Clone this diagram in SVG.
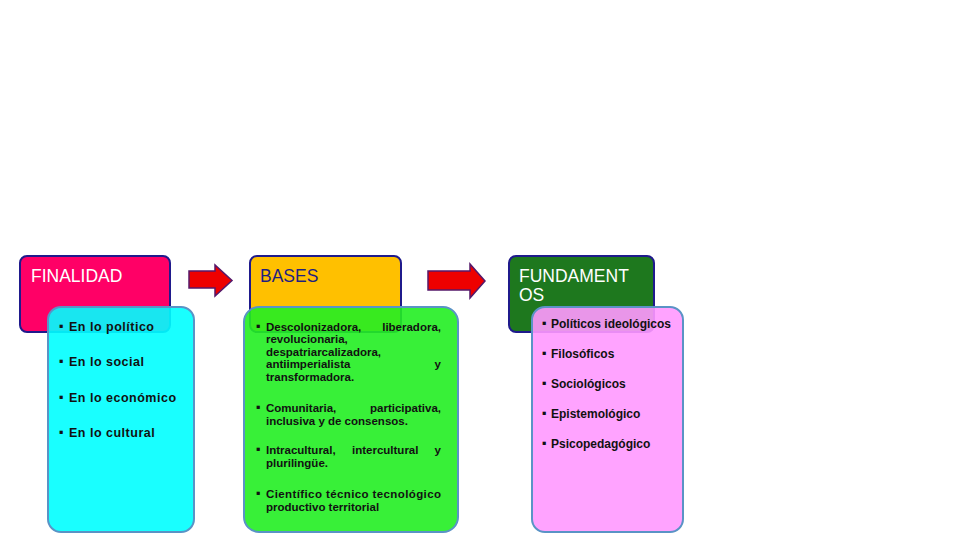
<svg xmlns="http://www.w3.org/2000/svg" width="960" height="540" viewBox="0 0 960 540">
<style>
.head{stroke:#1f1a8c;stroke-width:2}
.list{stroke:#5a93c6;stroke-width:2;fill-opacity:0.9}
.title{font-family:"Liberation Sans",Arial,sans-serif;font-size:17.5px}
.it{font-family:"Liberation Sans",Arial,sans-serif;font-weight:bold;fill:#111}
.fin{font-size:12.5px;letter-spacing:0.5px}
.bas{font-size:11.5px}
.fun{font-size:12px}
.bul{font-family:"DejaVu Sans",sans-serif;font-size:6.5px;fill:#111}
.arrow{fill:#ee0000;stroke:#55186a;stroke-width:1.5}
</style>
<rect width="960" height="540" fill="#ffffff"/>
<g id="connectors">
<polygon class="arrow" points="189,271 215,271 215,265 232,280.5 215,296 215,288 189,288"/>
<polygon class="arrow" points="428,271 470,271 470,264 485,281 470,298 470,290 428,290"/>
</g>
<g id="finalidad">
<rect class="head" x="20" y="256" width="150" height="76" rx="7" fill="#ff0066"/>
<text class="title" x="31" y="282" fill="#ffffff">FINALIDAD</text>
</g>
<g id="finalidad-list">
<rect class="list" x="48" y="307" width="146" height="225" rx="13" fill="#00ffff"/>
<text class="bul" x="59" y="328">▪</text><text class="it fin" x="69" y="331">En lo político</text>
<text class="bul" x="59" y="363">▪</text><text class="it fin" x="69" y="366">En lo social</text>
<text class="bul" x="59" y="399">▪</text><text class="it fin" x="69" y="402">En lo económico</text>
<text class="bul" x="59" y="434">▪</text><text class="it fin" x="69" y="437">En lo cultural</text>
</g>
<g id="bases">
<rect class="head" x="250" y="256" width="151" height="76" rx="7" fill="#ffc000"/>
<text class="title" x="260" y="282" fill="#1f1f80">BASES</text>
</g>
<g id="bases-list">
<rect class="list" x="244" y="307" width="214" height="225" rx="15" fill="#22ee22"/>
<text class="bul" x="256" y="328">▪</text>
<text class="it bas" x="266" y="331">Descolonizadora,</text>
<text class="it bas" x="441" y="331" text-anchor="end">liberadora,</text>
<text class="it bas" x="266" y="343">revolucionaria,</text>
<text class="it bas" x="266" y="356">despatriarcalizadora,</text>
<text class="it bas" x="266" y="368">antiimperialista</text>
<text class="it bas" x="441" y="368" text-anchor="end">y</text>
<text class="it bas" x="266" y="381">transformadora.</text>
<text class="bul" x="256" y="409">▪</text>
<text class="it bas" x="266" y="412">Comunitaria,</text>
<text class="it bas" x="441" y="412" text-anchor="end">participativa,</text>
<text class="it bas" x="266" y="425">inclusiva y de consensos.</text>
<text class="bul" x="256" y="451">▪</text>
<text class="it bas" x="266" y="454">Intracultural,</text>
<text class="it bas" x="352" y="454">intercultural</text>
<text class="it bas" x="441" y="454" text-anchor="end">y</text>
<text class="it bas" x="266" y="467">plurilingüe.</text>
<text class="bul" x="256" y="495">▪</text>
<text class="it bas" x="266" y="498" textLength="175" lengthAdjust="spacing">Científico técnico tecnológico</text>
<text class="it bas" x="266" y="511">productivo territorial</text>
</g>
<g id="fundamentos">
<rect class="head" x="509" y="256" width="145" height="76" rx="7" fill="#1e781e"/>
<text class="title" x="519" y="282" fill="#ffffff">FUNDAMENT</text>
<text class="title" x="519" y="301" fill="#ffffff">OS</text>
</g>
<g id="fundamentos-list">
<rect class="list" x="532" y="307" width="151" height="225" rx="13" fill="#ff99ff"/>
<text class="bul" x="542" y="325">▪</text><text class="it fun" x="551" y="328">Políticos ideológicos</text>
<text class="bul" x="542" y="355">▪</text><text class="it fun" x="551" y="358">Filosóficos</text>
<text class="bul" x="542" y="385">▪</text><text class="it fun" x="551" y="388">Sociológicos</text>
<text class="bul" x="542" y="415">▪</text><text class="it fun" x="551" y="418">Epistemológico</text>
<text class="bul" x="542" y="445">▪</text><text class="it fun" x="551" y="448">Psicopedagógico</text>
</g>
</svg>
